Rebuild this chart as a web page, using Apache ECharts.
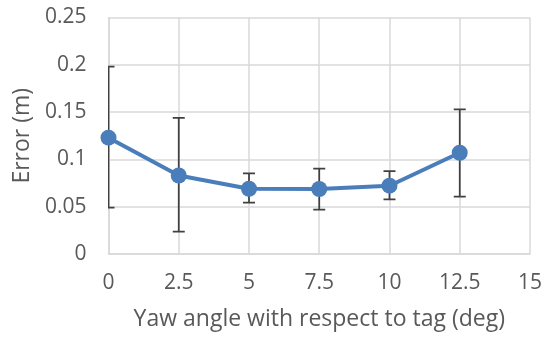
<!DOCTYPE html>
<html>
<head>
<meta charset="utf-8">
<script src="https://cdn.jsdelivr.net/npm/echarts@6/dist/echarts.min.js"></script>
<style>html,body{margin:0;padding:0;background:#fff;}#chart{width:545px;height:338px;}</style>
</head>
<body>
<div id="chart"></div>
<script>
var yawAngles = [0, 2.5, 5, 7.5, 10, 12.5];
var errorMean = [0.123, 0.083, 0.069, 0.0687, 0.0722, 0.107];
var errorLow = [0.049, 0.0236, 0.0542, 0.0468, 0.0578, 0.0606];
var errorHigh = [0.198, 0.144, 0.0853, 0.0902, 0.0877, 0.153];
var xAxisTitle = 'Yaw angle with respect to tag (deg)';
var yAxisTitle = 'Error (m)';

var lineData = yawAngles.map(function (x, i) { return [x, errorMean[i]]; });
var barData = yawAngles.map(function (x, i) { return [x, errorLow[i], errorHigh[i]]; });

var font = '"Open Sans", sans-serif';
var chart = echarts.init(document.getElementById('chart'), null, {renderer: 'canvas'});
chart.setOption({
  animation: false,
  grid: {left: 108.5, right: 11, top: 17.5, bottom: 84},
  xAxis: {
    type: 'value', min: 0, max: 15, interval: 2.5,
    name: xAxisTitle, nameLocation: 'middle', nameGap: 54,
    nameTextStyle: {fontFamily: font, fontSize: 23, color: '#595959'},
    axisLine: {show: true, lineStyle: {color: '#d9d9d9', width: 1.5}},
    axisTick: {show: false},
    splitLine: {show: true, lineStyle: {color: '#d9d9d9', width: 1.5}},
    axisLabel: {fontFamily: font, fontSize: 21, color: '#595959', margin: 19}
  },
  yAxis: {
    type: 'value', min: 0, max: 0.25, interval: 0.05,
    name: yAxisTitle, nameLocation: 'middle', nameGap: 73,
    nameTextStyle: {fontFamily: font, fontSize: 23, color: '#595959'},
    axisLine: {show: true, lineStyle: {color: '#d9d9d9', width: 1.5}},
    axisTick: {show: false},
    splitLine: {show: true, lineStyle: {color: '#d9d9d9', width: 1.5}},
    axisLabel: {fontFamily: font, fontSize: 21, color: '#595959', margin: 22}
  },
  series: [
    {
      type: 'custom',
      clip: true,
      z: 3,
      data: barData,
      renderItem: function (params, api) {
        var x = api.value(0);
        var lo = api.coord([x, api.value(1)]);
        var hi = api.coord([x, api.value(2)]);
        var hw = 6;
        var style = {stroke: '#404040', lineWidth: 1.75, fill: null};
        return {
          type: 'group',
          children: [
            {type: 'line', shape: {x1: lo[0], y1: lo[1], x2: hi[0], y2: hi[1]}, style: style},
            {type: 'line', shape: {x1: lo[0] - hw, y1: lo[1], x2: lo[0] + hw, y2: lo[1]}, style: style},
            {type: 'line', shape: {x1: hi[0] - hw, y1: hi[1], x2: hi[0] + hw, y2: hi[1]}, style: style}
          ]
        };
      }
    },
    {
      type: 'line',
      z: 4,
      data: lineData,
      symbol: 'circle',
      symbolSize: 16,
      lineStyle: {color: '#4a7ebb', width: 4},
      itemStyle: {color: '#4a7ebb'}
    }
  ]
});
</script>
</body>
</html>
